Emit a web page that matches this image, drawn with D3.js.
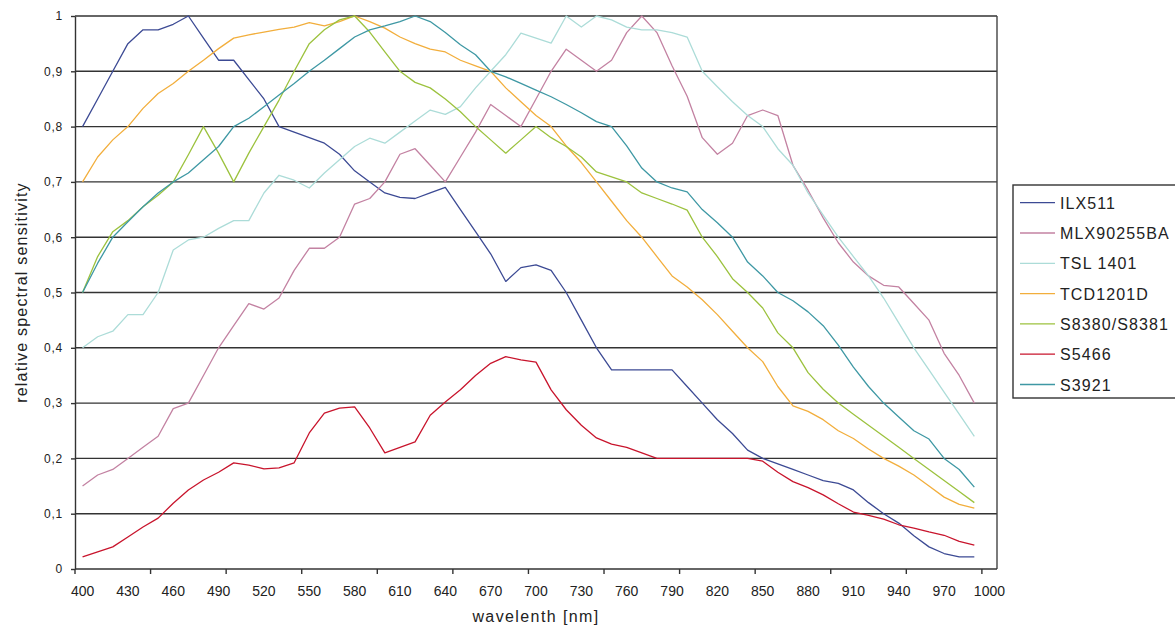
<!DOCTYPE html>
<html>

<head>
    <meta charset="utf-8" />
    <title>relative spectral sensitivity</title>
    <script src="https://cdn.jsdelivr.net/npm/d3@7/dist/d3.min.js"></script>
</head>

<body>
    <style>
        html,
        body {
            margin: 0;
            padding: 0;
            background: #fff;
        }

        #container {
            width: 1175px;
            height: 630px;
        }

        text {
            font-family: "Liberation Sans", Arial, sans-serif;
            fill: #222;
        }

        .grid line {
            stroke: #333;
            stroke-width: 1.4px;
        }

        .series {
            fill: none;
            stroke-width: 1.3px;
            stroke-linejoin: round;
        }
    </style>
    <div id="container"></div>
    <script>
        // categories (nm), the last one (1000) has no data
        const wavelengths = [400, 410, 420, 430, 440, 450, 460, 470, 480, 490,
            500, 510, 520, 530, 540, 550, 560, 570, 580, 590,
            600, 610, 620, 630, 640, 650, 660, 670, 680, 690,
            700, 710, 720, 730, 740, 750, 760, 770, 780, 790,
            800, 810, 820, 830, 840, 850, 860, 870, 880, 890,
            900, 910, 920, 930, 940, 950, 960, 970, 980, 990, 1000];

        const xLabels = [400, 430, 460, 490, 520, 550, 580, 610, 640, 670, 700,
            730, 760, 790, 820, 850, 880, 910, 940, 970, 1000];
        const yTicks = [0, 0.1, 0.2, 0.3, 0.4, 0.5, 0.6, 0.7, 0.8, 0.9, 1];

        const names = ["ILX511", "MLX90255BA", "TSL 1401", "TCD1201D", "S8380/S8381", "S5466", "S3921"];
        const colors = ["#3c4a94", "#c382a2", "#acdcd8", "#f2ae3c", "#9cc23e", "#c8142c", "#3e98a4"];

        const ilx511 = [0.80, 0.85, 0.90, 0.95, 0.975, 0.975, 0.985, 1.00, 0.96, 0.92,
            0.92, 0.885, 0.85, 0.80, 0.79, 0.78, 0.77, 0.75, 0.72, 0.70,
            0.68, 0.672, 0.67, 0.68, 0.69, 0.65, 0.61, 0.57, 0.52, 0.545,
            0.55, 0.54, 0.50, 0.45, 0.40, 0.36, 0.36, 0.36, 0.36, 0.36,
            0.33, 0.30, 0.27, 0.245, 0.215, 0.20, 0.19, 0.18, 0.17, 0.16,
            0.155, 0.143, 0.12, 0.10, 0.083, 0.06, 0.04, 0.028, 0.022, 0.022];

        const mlx90255 = [0.15, 0.17, 0.18, 0.20, 0.22, 0.24, 0.29, 0.30, 0.35, 0.40,
            0.44, 0.48, 0.47, 0.49, 0.54, 0.58, 0.58, 0.60, 0.66, 0.67,
            0.70, 0.75, 0.76, 0.73, 0.70, 0.745, 0.79, 0.84, 0.82, 0.80,
            0.85, 0.90, 0.94, 0.92, 0.90, 0.92, 0.97, 1.00, 0.97, 0.91,
            0.855, 0.78, 0.75, 0.77, 0.82, 0.83, 0.82, 0.73, 0.685, 0.635,
            0.59, 0.555, 0.53, 0.513, 0.51, 0.48, 0.45, 0.39, 0.35, 0.30];

        const tsl1401 = [0.40, 0.42, 0.43, 0.46, 0.46, 0.50, 0.577, 0.595, 0.60, 0.616,
            0.63, 0.63, 0.68, 0.712, 0.703, 0.689, 0.716, 0.74, 0.764, 0.779,
            0.77, 0.79, 0.81, 0.83, 0.822, 0.836, 0.87, 0.90, 0.93, 0.969,
            0.96, 0.951, 1.00, 0.98, 1.00, 0.993, 0.98, 0.975, 0.975, 0.97,
            0.962, 0.90, 0.872, 0.845, 0.82, 0.80, 0.76, 0.73, 0.68, 0.64,
            0.60, 0.565, 0.53, 0.49, 0.445, 0.40, 0.36, 0.32, 0.28, 0.24];

        const tcd1201 = [0.70, 0.745, 0.776, 0.80, 0.833, 0.86, 0.878, 0.90, 0.92, 0.941,
            0.96, 0.966, 0.971, 0.976, 0.98, 0.988, 0.982, 0.99, 1.00, 0.99,
            0.978, 0.962, 0.95, 0.94, 0.935, 0.92, 0.91, 0.90, 0.87, 0.845,
            0.82, 0.80, 0.765, 0.735, 0.70, 0.665, 0.63, 0.60, 0.565, 0.53,
            0.51, 0.487, 0.46, 0.43, 0.40, 0.375, 0.33, 0.295, 0.285, 0.27,
            0.25, 0.236, 0.217, 0.20, 0.186, 0.17, 0.15, 0.13, 0.117, 0.11];

        const s8380 = [0.50, 0.565, 0.61, 0.63, 0.655, 0.676, 0.70, 0.749, 0.80, 0.752,
            0.70, 0.752, 0.80, 0.848, 0.90, 0.95, 0.975, 0.993, 1.00, 0.971,
            0.935, 0.90, 0.88, 0.87, 0.85, 0.827, 0.80, 0.776, 0.752, 0.776,
            0.80, 0.78, 0.764, 0.745, 0.718, 0.709, 0.70, 0.68, 0.67, 0.66,
            0.649, 0.60, 0.565, 0.525, 0.50, 0.472, 0.427, 0.40, 0.355, 0.325,
            0.30, 0.28, 0.26, 0.24, 0.22, 0.20, 0.18, 0.16, 0.14, 0.12];

        const s5466 = [0.022, 0.031, 0.04, 0.058, 0.076, 0.092, 0.119, 0.143, 0.161, 0.175,
            0.192, 0.188, 0.181, 0.183, 0.192, 0.246, 0.282, 0.291, 0.293, 0.255,
            0.21, 0.22, 0.23, 0.278, 0.302, 0.324, 0.35, 0.372, 0.384, 0.378,
            0.374, 0.324, 0.288, 0.26, 0.237, 0.226, 0.22, 0.21, 0.20, 0.20,
            0.20, 0.20, 0.20, 0.20, 0.20, 0.195, 0.175, 0.158, 0.147, 0.134,
            0.118, 0.103, 0.097, 0.09, 0.08, 0.074, 0.067, 0.061, 0.05, 0.043];

        const s3921 = [0.50, 0.553, 0.60, 0.628, 0.655, 0.68, 0.70, 0.716, 0.74, 0.764,
            0.80, 0.815, 0.836, 0.857, 0.878, 0.90, 0.92, 0.941, 0.962, 0.975,
            0.982, 0.99, 1.00, 0.99, 0.97, 0.948, 0.93, 0.90, 0.89, 0.878,
            0.866, 0.854, 0.84, 0.825, 0.809, 0.80, 0.765, 0.725, 0.70, 0.689,
            0.682, 0.65, 0.626, 0.60, 0.555, 0.53, 0.50, 0.485, 0.465, 0.44,
            0.405, 0.365, 0.33, 0.30, 0.275, 0.25, 0.235, 0.20, 0.18, 0.148];

        const series = [ilx511, mlx90255, tsl1401, tcd1201, s8380, s5466, s3921];

        const plotLeft = 75, plotRight = 997, plotTop = 16, plotBottom = 569;

        const svg = d3.select("#container").append("svg")
            .attr("width", 1175)
            .attr("height", 630);

        const x = d3.scaleBand()
            .domain(wavelengths)
            .range([plotLeft, plotRight])
            .padding(0);

        // category edges, for the tick marks between categories
        const xEdge = d3.scaleLinear()
            .domain([0, wavelengths.length])
            .range([plotLeft, plotRight]);

        const y = d3.scaleLinear()
            .domain([0, 1])
            .range([plotBottom, plotTop]);

        // grid lines
        svg.append("g")
            .attr("class", "grid")
            .selectAll("line")
            .data(yTicks.filter(d => d > 0))
            .enter()
            .append("line")
            .attr("x1", plotLeft)
            .attr("x2", plotRight)
            .attr("y1", d => y(d))
            .attr("y2", d => y(d));

        // plot border on the right
        svg.append("line")
            .attr("x1", plotRight).attr("x2", plotRight)
            .attr("y1", plotTop).attr("y2", plotBottom)
            .attr("stroke", "#444")
            .attr("stroke-width", 1.4);

        // y axis
        const yAxis = svg.append("g")
            .attr("transform", `translate(${plotLeft},0)`)
            .call(d3.axisLeft(y)
                .tickValues(yTicks)
                .tickSizeInner(4)
                .tickSizeOuter(0)
                .tickPadding(8)
                .tickFormat(d => d3.format(".1~f")(d).replace(".", ",")));
        yAxis.selectAll("path, line").attr("stroke", "#333").attr("stroke-width", 1.4);
        yAxis.selectAll("text")
            .style("font-size", "12px")
            .style("letter-spacing", "0.8px")
            .attr("fill", "#222");

        // x axis labels at category centres
        const xAxis = svg.append("g")
            .attr("transform", `translate(0,${plotBottom})`)
            .call(d3.axisBottom(x)
                .tickValues(xLabels)
                .tickSize(0)
                .tickPadding(17));
        xAxis.select(".domain").remove();
        xAxis.selectAll("text")
            .style("font-size", "14px")
            .attr("fill", "#222");

        // x axis line and tick marks every 5 categories
        svg.append("line")
            .attr("x1", plotLeft).attr("x2", plotRight)
            .attr("y1", plotBottom).attr("y2", plotBottom)
            .attr("stroke", "#333")
            .attr("stroke-width", 1.4);

        svg.append("g")
            .selectAll("line")
            .data(d3.range(0, wavelengths.length, 5))
            .enter()
            .append("line")
            .attr("x1", d => xEdge(d)).attr("x2", d => xEdge(d))
            .attr("y1", plotBottom).attr("y2", plotBottom + 5)
            .attr("stroke", "#333")
            .attr("stroke-width", 1.4);

        // series
        const line = d3.line()
            .x((d, i) => x(wavelengths[i]) + x.bandwidth() / 2)
            .y(d => y(d));

        svg.append("g")
            .selectAll("path")
            .data(series)
            .enter()
            .append("path")
            .attr("class", "series")
            .attr("stroke", (d, i) => colors[i])
            .attr("d", line);

        // axis titles
        svg.append("text")
            .attr("x", (plotLeft + plotRight) / 2)
            .attr("y", 622)
            .attr("text-anchor", "middle")
            .style("font-size", "16px")
            .style("letter-spacing", "1.4px")
            .text("wavelenth [nm]");

        svg.append("text")
            .attr("transform", `translate(27,${(plotTop + plotBottom) / 2}) rotate(-90)`)
            .attr("text-anchor", "middle")
            .style("font-size", "16px")
            .style("letter-spacing", "1.2px")
            .text("relative spectral sensitivity");

        // legend
        const legend = svg.append("g")
            .attr("transform", "translate(1013,185)");

        legend.append("rect")
            .attr("width", 200)
            .attr("height", 213)
            .attr("fill", "#fff")
            .attr("stroke", "#333")
            .attr("stroke-width", 1.4);

        const item = legend.selectAll(".item")
            .data(names)
            .enter()
            .append("g")
            .attr("class", "item")
            .attr("transform", (d, i) => `translate(0,${17.7 + i * 30.3})`);

        item.append("line")
            .attr("x1", 7).attr("x2", 42)
            .attr("stroke", (d, i) => colors[i])
            .attr("stroke-width", 1.3);

        item.append("text")
            .attr("x", 47)
            .attr("y", 6)
            .style("font-size", "16px")
            .style("letter-spacing", "1.1px")
            .text(d => d);
    </script>
</body>

</html>
